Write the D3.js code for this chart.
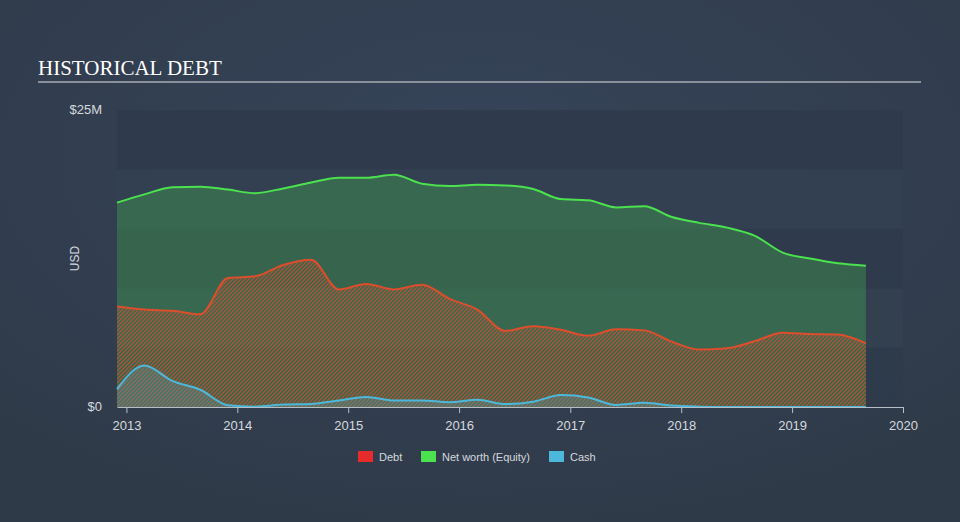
<!DOCTYPE html>
<html>
<head>
<meta charset="utf-8">
<script src="https://cdn.jsdelivr.net/npm/d3@7/dist/d3.min.js"></script>
<style>
  html, body { margin: 0; padding: 0; }
  body { width: 960px; height: 522px; overflow: hidden; background: #334050; }
  text { font-family: "Liberation Sans", Arial, sans-serif; }
</style>
</head>
<body>
<div id="chart"></div>
<script>
// quarter-end dates, Dec 2012 .. Sep 2019
const dates = [
    '2012-12-01', '2013-03-01', '2013-06-01', '2013-09-01', '2013-12-01',
    '2014-03-01', '2014-06-01', '2014-09-01', '2014-12-01',
    '2015-03-01', '2015-06-01', '2015-09-01', '2015-12-01',
    '2016-03-01', '2016-06-01', '2016-09-01', '2016-12-01',
    '2017-03-01', '2017-06-01', '2017-09-01', '2017-12-01',
    '2018-03-01', '2018-06-01', '2018-09-01', '2018-12-01',
    '2019-03-01', '2019-06-01', '2019-09-01'
];

// values in $M
const equityValues = [17.2, 17.9, 18.5, 18.55, 18.3, 18.0, 18.4, 18.9, 19.3, 19.3, 19.55, 18.8, 18.6,
    18.7, 18.65, 18.35, 17.5, 17.4, 16.8, 16.9, 16.0, 15.5, 15.1, 14.4, 13.0, 12.5, 12.1, 11.9];
const debtValues = [8.45, 8.2, 8.1, 7.8, 10.85, 11.0, 11.95, 12.4, 9.9, 10.35, 9.9, 10.3, 9.1,
    8.2, 6.4, 6.8, 6.5, 6.0, 6.55, 6.45, 5.5, 4.85, 4.95, 5.55, 6.25, 6.15, 6.1, 5.35];
const cashValues = [1.5, 3.5, 2.2, 1.45, 0.15, 0.03, 0.2, 0.25, 0.55, 0.85, 0.55, 0.55, 0.4,
    0.6, 0.25, 0.45, 1.0, 0.8, 0.17, 0.36, 0.12, 0.03, 0, 0, 0, 0, 0, 0];

const yearTicks = [2013, 2014, 2015, 2016, 2017, 2018, 2019, 2020];
const yTickLabels = ['$0', '$25M'];
const legendItems = ['Debt', 'Net worth (Equity)', 'Cash'];

const width = 960, height = 522;
const margin = {top: 110, right: 58, bottom: 115, left: 117};
const colors = {debt: '#dc4e2c', equity: '#4be14f', cash: '#4cb8dc'};
const legendColors = ['#e52b2b', '#4be14f', '#4cb8dc'];

const parse = d3.timeParse('%Y-%m-%d');
const points = dates.map((d, i) => ({
    date: parse(d),
    equity: equityValues[i],
    debt: debtValues[i],
    cash: cashValues[i]
}));

const svg = d3.select('#chart').append('svg')
    .attr('width', width)
    .attr('height', height);

// background with a soft glow
const defs = svg.append('defs');
const bg = defs.append('radialGradient').attr('id', 'bg').attr('cx', '50%').attr('cy', '30%').attr('r', '75%');
bg.append('stop').attr('offset', '0%').attr('stop-color', '#36445a');
bg.append('stop').attr('offset', '100%').attr('stop-color', '#2f3a48');
svg.append('rect').attr('width', width).attr('height', height).attr('fill', 'url(#bg)');

const hatch = defs.append('pattern')
    .attr('id', 'hatch')
    .attr('patternUnits', 'userSpaceOnUse')
    .attr('width', 4)
    .attr('height', 4);
hatch.append('path')
    .attr('d', 'M-1,1 l2,-2 M0,4 l4,-4 M3,5 l2,-2')
    .attr('stroke', colors.debt)
    .attr('stroke-width', 1.3)
    .attr('opacity', 0.7);

// title
svg.append('text')
    .attr('x', 38)
    .attr('y', 75)
    .attr('fill', '#ffffff')
    .style('font-family', '"Liberation Serif", "Times New Roman", serif')
    .style('font-size', '21px')
    .text('HISTORICAL DEBT');

svg.append('line')
    .attr('x1', 38).attr('x2', 921)
    .attr('y1', 82).attr('y2', 82)
    .attr('stroke', '#a9adb3')
    .attr('stroke-width', 1.5);

const xScale = d3.scaleTime()
    .domain([parse('2012-12-01'), new Date(2020, 0, 1)])
    .range([margin.left, width - margin.right + 1]);

const yScale = d3.scaleLinear()
    .domain([0, 25])
    .range([height - margin.bottom, margin.top]);

// horizontal bands every $5M
const bands = d3.range(0, 25, 5);
svg.append('g').selectAll('rect')
    .data(bands)
    .enter()
    .append('rect')
    .attr('x', margin.left)
    .attr('width', xScale.range()[1] - margin.left)
    .attr('y', d => yScale(d + 5))
    .attr('height', d => yScale(d) - yScale(d + 5))
    .attr('fill', (d, i) => i % 2 === 0 ? '#2f3b4b' : '#334051')
    .attr('opacity', 0.9);

const curve = d3.curveMonotoneX;

const areaFor = key => d3.area()
    .x(d => xScale(d.date))
    .y0(yScale(0))
    .y1(d => yScale(d[key]))
    .curve(curve);

const lineFor = key => d3.line()
    .x(d => xScale(d.date))
    .y(d => yScale(d[key]))
    .curve(curve);

const plot = svg.append('g');

plot.append('path')
    .datum(points)
    .attr('d', areaFor('equity'))
    .attr('fill', colors.equity)
    .attr('fill-opacity', 0.25);

plot.append('path')
    .datum(points)
    .attr('d', areaFor('debt'))
    .attr('fill', 'url(#hatch)');

plot.append('path')
    .datum(points)
    .attr('d', areaFor('cash'))
    .attr('fill', colors.cash)
    .attr('fill-opacity', 0.22);

[['equity', colors.equity], ['debt', colors.debt], ['cash', colors.cash]].forEach(([key, c]) => {
    plot.append('path')
        .datum(points)
        .attr('d', lineFor(key))
        .attr('fill', 'none')
        .attr('stroke', c)
        .attr('stroke-width', 2);
});

// x axis
const xAxis = d3.axisBottom(xScale)
    .tickValues(yearTicks.map(y => new Date(y, 0, 1)))
    .tickFormat(d3.timeFormat('%Y'))
    .tickSize(6)
    .tickSizeOuter(0);

const gXAxis = svg.append('g')
    .attr('transform', `translate(0,${yScale(0)})`)
    .call(xAxis);

gXAxis.select('.domain').attr('stroke', '#b8bec6').attr('stroke-width', 1.2);
gXAxis.selectAll('.tick line').attr('stroke', '#b8bec6');
gXAxis.selectAll('.tick text')
    .attr('fill', '#d5d9de')
    .attr('dy', '1.05em')
    .style('font-size', '13px');

// y labels
svg.append('g').selectAll('text')
    .data([0, 25])
    .enter()
    .append('text')
    .attr('x', 102)
    .attr('y', d => yScale(d) + 4)
    .attr('text-anchor', 'end')
    .attr('fill', '#d5d9de')
    .style('font-size', '13px')
    .text((d, i) => yTickLabels[i]);

svg.append('text')
    .attr('transform', `translate(79,${(yScale(0) + yScale(25)) / 2}) rotate(-90)`)
    .attr('text-anchor', 'middle')
    .attr('fill', '#d5d9de')
    .style('font-size', '12px')
    .text('USD');

// legend
const legendX = [358, 421, 549];
const legend = svg.append('g');
legendItems.forEach((name, i) => {
    legend.append('rect')
        .attr('x', legendX[i])
        .attr('y', 451)
        .attr('width', 15)
        .attr('height', 11)
        .attr('fill', legendColors[i]);
    legend.append('text')
        .attr('x', legendX[i] + 21)
        .attr('y', 461)
        .attr('fill', '#d5d9de')
        .style('font-size', '11px')
        .text(name);
});
</script>
</body>
</html>
